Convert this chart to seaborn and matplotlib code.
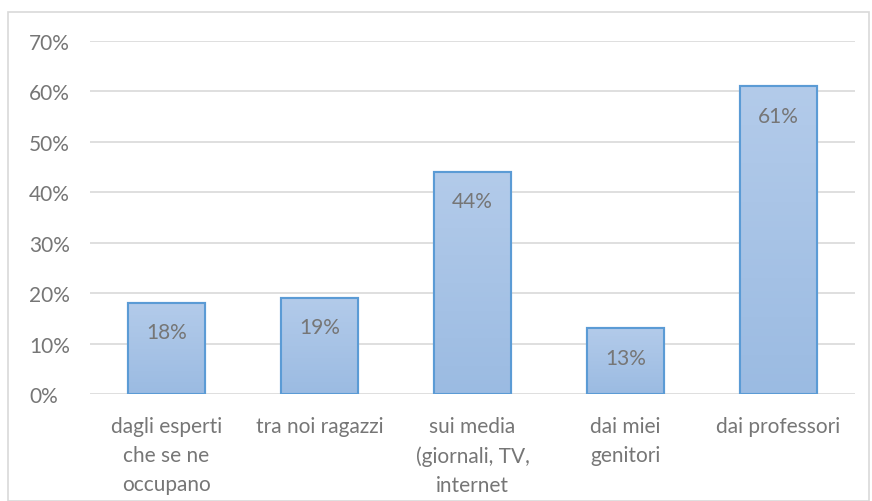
import numpy as np
import pandas as pd
import seaborn as sns
import matplotlib.pyplot as plt
from matplotlib.patches import Rectangle
from matplotlib.ticker import PercentFormatter

# dati
categorie = ["dagli esperti\nche se ne\noccupano", "tra noi ragazzi",
             "sui media\n(giornali, TV,\ninternet", "dai miei\ngenitori", "dai professori"]
valori = [18, 19, 44, 13, 61]
etichette = ["18%", "19%", "44%", "13%", "61%"]

df = pd.DataFrame({"categoria": categorie, "valore": valori})

sns.set_style("white")
plt.rcParams['font.family'] = ['Lato', 'DejaVu Sans']

grigio = '#767676'
fs = 15
fig = plt.figure(figsize=(8.72, 5.02), dpi=100)
ax = fig.add_axes([90 / 872, 107 / 502, 765 / 872, 353 / 502])

sns.barplot(data=df, x="categoria", y="valore", color='#a5c2e6', width=0.5,
            edgecolor='#5b9bd5', linewidth=1.5, ax=ax, zorder=3)

# gradiente sulle barre
grad = np.linspace(0, 1, 256).reshape(-1, 1)
cmap = plt.matplotlib.colors.LinearSegmentedColormap.from_list('g', ['#9bbbe2', '#b3cbea'])
for bar in ax.patches:
    x0, y0 = bar.get_x(), bar.get_y()
    w, h = bar.get_width(), bar.get_height()
    im = ax.imshow(grad, cmap=cmap, aspect='auto', origin='lower',
                   extent=[x0, x0 + w, y0, y0 + h], zorder=3.5)
    im.set_clip_path(bar)
    border = Rectangle((x0, y0), w, h, fill=False, edgecolor='#5b9bd5', linewidth=1.5, zorder=4)
    ax.add_patch(border)

for i, (v, t) in enumerate(zip(valori, etichette)):
    ax.annotate(t, (i, v), xytext=(0, -21), textcoords='offset points',
                ha='center', va='center', fontsize=fs, color=grigio, zorder=5)

ax.set_xlim(-0.5, 4.5)
ax.set_ylim(0, 70)
ax.set_yticks(range(0, 71, 10))
ax.yaxis.set_major_formatter(PercentFormatter(decimals=0))
ax.grid(axis='y', color='#d9d9d9', linewidth=1.2, zorder=0)
for s in ax.spines.values():
    s.set_visible(False)
ax.set_xlabel('')
ax.set_ylabel('')
ax.tick_params(axis='both', length=0, labelsize=fs, labelcolor=grigio)
ax.tick_params(axis='x', pad=16)
ax.tick_params(axis='y', pad=44)
for lab in ax.get_xticklabels():
    lab.set_linespacing(1.55)
for lab in ax.get_yticklabels():
    lab.set_horizontalalignment('left')

# cornice esterna del grafico
fig.patches.append(Rectangle((8 / 872, 0.5 / 502), 861 / 872, 489 / 502, transform=fig.transFigure,
                             fill=False, edgecolor='#d9d9d9', linewidth=1.2))

fig.savefig('out.png', dpi=100)
